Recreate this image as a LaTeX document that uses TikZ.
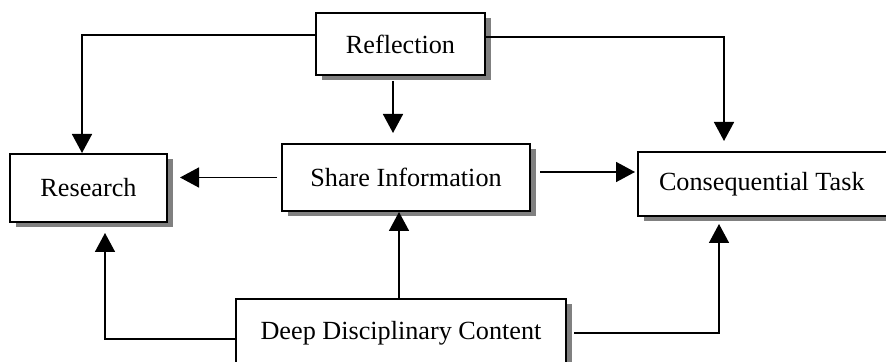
\documentclass[tikz,border=0pt]{standalone}
\usepackage{fontspec}
\setmainfont{Liberation Serif}
\usepackage{tikz}
\usetikzlibrary{arrows.meta,shadows}

\tikzset{
  box/.style={draw=black,fill=white,line width=1pt,inner sep=0pt,
    drop shadow={shadow xshift=3pt,shadow yshift=-2.5pt,fill=gray,opacity=1}},
  link/.style={line width=0.8pt,-{Triangle[length=9.5pt,width=10pt]}}
}

\begin{document}
\begin{tikzpicture}[x=0.5pt,y=-0.5pt,font=\fontsize{13.1}{15}\selectfont]
  \useasboundingbox (0,0) rectangle (886,362);
  % boxes
  \node[box,minimum width=84.5pt,minimum height=31pt] (refl) at (400.5,44) {Reflection};
  \node[box,minimum width=124pt,minimum height=33.5pt] (share) at (406,177.5) {Share Information};
  \node[box,minimum width=78.5pt,minimum height=34pt] (research) at (88.5,188) {Research};
  \node[box,anchor=west,minimum height=32pt,inner xsep=10.5pt,text width=106.5pt,align=flush left] (task) at (637,184) {Consequential Task};
  \node[box,minimum width=165pt,minimum height=34pt] (deep) at (401,333) {Deep Disciplinary Content};
  % bends
  \coordinate (rr) at (82,35);
  \coordinate (rt) at (724,37);
  \coordinate (dr) at (105,339);
  \coordinate (dt) at (719,333);
  % arrows from Reflection
  \draw[link] (refl.west |- rr) -| (research.north -| rr);
  \draw[link,shorten >=5pt] (refl.east |- rt) -| (task.north -| rt);
  \draw[link,shorten <=2.5pt,shorten >=5pt] ([xshift=-3.75pt]refl.south) -- ([xshift=-3.75pt]refl.south |- share.north);
  % arrows from Share Information
  \draw[link,shorten <=2pt,shorten >=6pt] (share.west) -- (share.west -| research.east);
  \draw[link,shorten <=4.5pt,shorten >=1pt] ([yshift=2.75pt]share.east) -- ([yshift=2.75pt]share.east -| task.west);
  % arrows from Deep Disciplinary Content
  \draw[link,shorten >=5pt] (deep.west |- dr) -| (research.south -| dr);
  \draw[link] ([xshift=-1pt]deep.north) -- ([xshift=-1pt]deep.north |- share.south);
  \draw[link,shorten <=3.5pt,shorten >=3.5pt] (deep.east) -| (task.south -| dt);
\end{tikzpicture}
\end{document}
